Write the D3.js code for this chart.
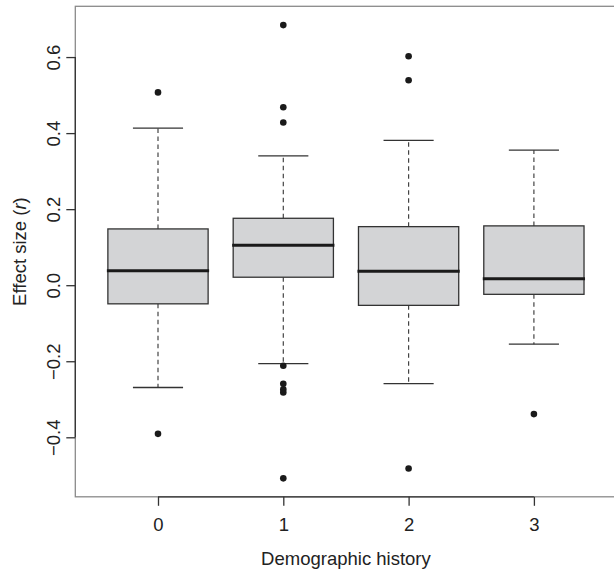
<!DOCTYPE html>
<html>
<head>
<meta charset="utf-8">
<script src="https://cdn.jsdelivr.net/npm/d3@7"></script>
<style>
  body { margin: 0; background: #fff; }
  svg text { font-family: "Liberation Sans", Arial, sans-serif; fill: #222; }
</style>
</head>
<body>
<svg id="chart" width="614" height="570"></svg>
<script>
// groups on the x axis
const groups = ["0", "1", "2", "3"];

// box statistics
const lowWhisker  = [-0.269, -0.206, -0.259, -0.155];
const q1          = [-0.049,  0.021, -0.053, -0.024];
const median      = [ 0.038,  0.105,  0.037,  0.017];
const q3          = [ 0.148,  0.176,  0.154,  0.156];
const highWhisker = [ 0.413,  0.340,  0.381,  0.355];

// outliers per group
const outliers = [
  [0.507, -0.391],
  [0.684, 0.468, 0.428, -0.212, -0.259, -0.274, -0.282, -0.508],
  [0.602, 0.539, -0.482],
  [-0.339]
];

const yTicks = [-0.4, -0.2, 0.0, 0.2, 0.4, 0.6];

const svg = d3.select("#chart");

// scales (R style: groups at 1..n, 4% padding)
let x = d3.scaleLinear()
  .domain([0.34, 4.66])
  .range([75.3, 616.6]);

let y = d3.scaleLinear()
  .domain([-0.5565, 0.7335])
  .range([496.8, 6.3]);

const boxHalf = 0.4;   // boxwex 0.8
const capHalf = 0.2;   // staple

// plot frame
svg.append("rect")
  .attr("x", x(0.34))
  .attr("y", y(0.7335))
  .attr("width", x(4.66) - x(0.34))
  .attr("height", y(-0.5565) - y(0.7335))
  .attr("fill", "none")
  .attr("stroke", "#8a8a8a")
  .attr("stroke-width", 1.3);

// boxes
let stats = groups.map((g, i) => ({
  pos: i + 1, lo: lowWhisker[i], q1: q1[i], med: median[i], q3: q3[i], hi: highWhisker[i], out: outliers[i]
}));

let box = svg.selectAll("g.box")
  .data(stats)
  .enter()
  .append("g")
  .attr("class", "box");

// dashed whiskers
box.append("line")
  .attr("x1", d => x(d.pos)).attr("x2", d => x(d.pos))
  .attr("y1", d => y(d.q3)).attr("y2", d => y(d.hi))
  .attr("stroke", "#444").attr("stroke-width", 1.2)
  .attr("stroke-dasharray", "4.5,3.5");
box.append("line")
  .attr("x1", d => x(d.pos)).attr("x2", d => x(d.pos))
  .attr("y1", d => y(d.q1)).attr("y2", d => y(d.lo))
  .attr("stroke", "#444").attr("stroke-width", 1.2)
  .attr("stroke-dasharray", "4.5,3.5");

// staples
box.append("line")
  .attr("x1", d => x(d.pos - capHalf)).attr("x2", d => x(d.pos + capHalf))
  .attr("y1", d => y(d.hi)).attr("y2", d => y(d.hi))
  .attr("stroke", "#333").attr("stroke-width", 1.3);
box.append("line")
  .attr("x1", d => x(d.pos - capHalf)).attr("x2", d => x(d.pos + capHalf))
  .attr("y1", d => y(d.lo)).attr("y2", d => y(d.lo))
  .attr("stroke", "#333").attr("stroke-width", 1.3);

// box body
box.append("rect")
  .attr("x", d => x(d.pos - boxHalf))
  .attr("y", d => y(d.q3))
  .attr("width", d => x(d.pos + boxHalf) - x(d.pos - boxHalf))
  .attr("height", d => y(d.q1) - y(d.q3))
  .attr("fill", "#d3d4d6")
  .attr("stroke", "#333")
  .attr("stroke-width", 1.3);

// median
box.append("line")
  .attr("x1", d => x(d.pos - boxHalf) - 1).attr("x2", d => x(d.pos + boxHalf) + 1)
  .attr("y1", d => y(d.med)).attr("y2", d => y(d.med))
  .attr("stroke", "#1a1a1a").attr("stroke-width", 3);

// outlier points
box.selectAll("circle")
  .data(d => d.out.map(v => ({pos: d.pos, v: v})))
  .enter()
  .append("circle")
  .attr("cx", d => x(d.pos))
  .attr("cy", d => y(d.v))
  .attr("r", 3.3)
  .attr("fill", "#1a1a1a");

// y axis
let yAxis = svg.append("g")
  .attr("transform", "translate(" + x(0.34) + ",0)")
  .call(d3.axisLeft(y).tickValues(yTicks).tickSize(9).tickSizeOuter(0).tickFormat(d3.format(".1f")));
yAxis.select(".domain").remove();
yAxis.selectAll(".tick line").attr("stroke", "#333").attr("stroke-width", 1.3);
yAxis.selectAll(".tick text")
  .attr("x", null).attr("dy", null)
  .attr("transform", "translate(-15.3,0) rotate(-90)")
  .attr("text-anchor", "middle")
  .style("font-size", "18.5px")
  .text(d => d3.format(".1f")(d).replace("-", "\u2212"));
yAxis.append("line")
  .attr("x1", 0).attr("x2", 0)
  .attr("y1", y(yTicks[0])).attr("y2", y(yTicks[yTicks.length - 1]))
  .attr("stroke", "#333").attr("stroke-width", 1.3);

// x axis
let xAxis = svg.append("g")
  .attr("transform", "translate(0," + y(-0.5565) + ")")
  .call(d3.axisBottom(x).tickValues([1, 2, 3, 4]).tickSize(9).tickSizeOuter(0).tickFormat((d, i) => groups[i]));
xAxis.select(".domain").remove();
xAxis.selectAll(".tick line").attr("stroke", "#333").attr("stroke-width", 1.3);
xAxis.selectAll(".tick text")
  .attr("y", 34).attr("dy", null)
  .style("font-size", "18.5px");
xAxis.append("line")
  .attr("x1", x(1)).attr("x2", x(4))
  .attr("y1", 0).attr("y2", 0)
  .attr("stroke", "#333").attr("stroke-width", 1.3);

// axis titles
svg.append("text")
  .attr("x", (x(0.34) + x(4.66)) / 2)
  .attr("y", 565)
  .attr("text-anchor", "middle")
  .style("font-size", "18.5px")
  .text("Demographic history");

let yTitle = svg.append("text")
  .attr("transform", "translate(26," + ((y(0.7335) + y(-0.5565)) / 2) + ") rotate(-90)")
  .attr("text-anchor", "middle")
  .style("font-size", "18.5px");
yTitle.append("tspan").text("Effect size (");
yTitle.append("tspan").style("font-style", "italic").text("r");
yTitle.append("tspan").text(")");
</script>
</body>
</html>
